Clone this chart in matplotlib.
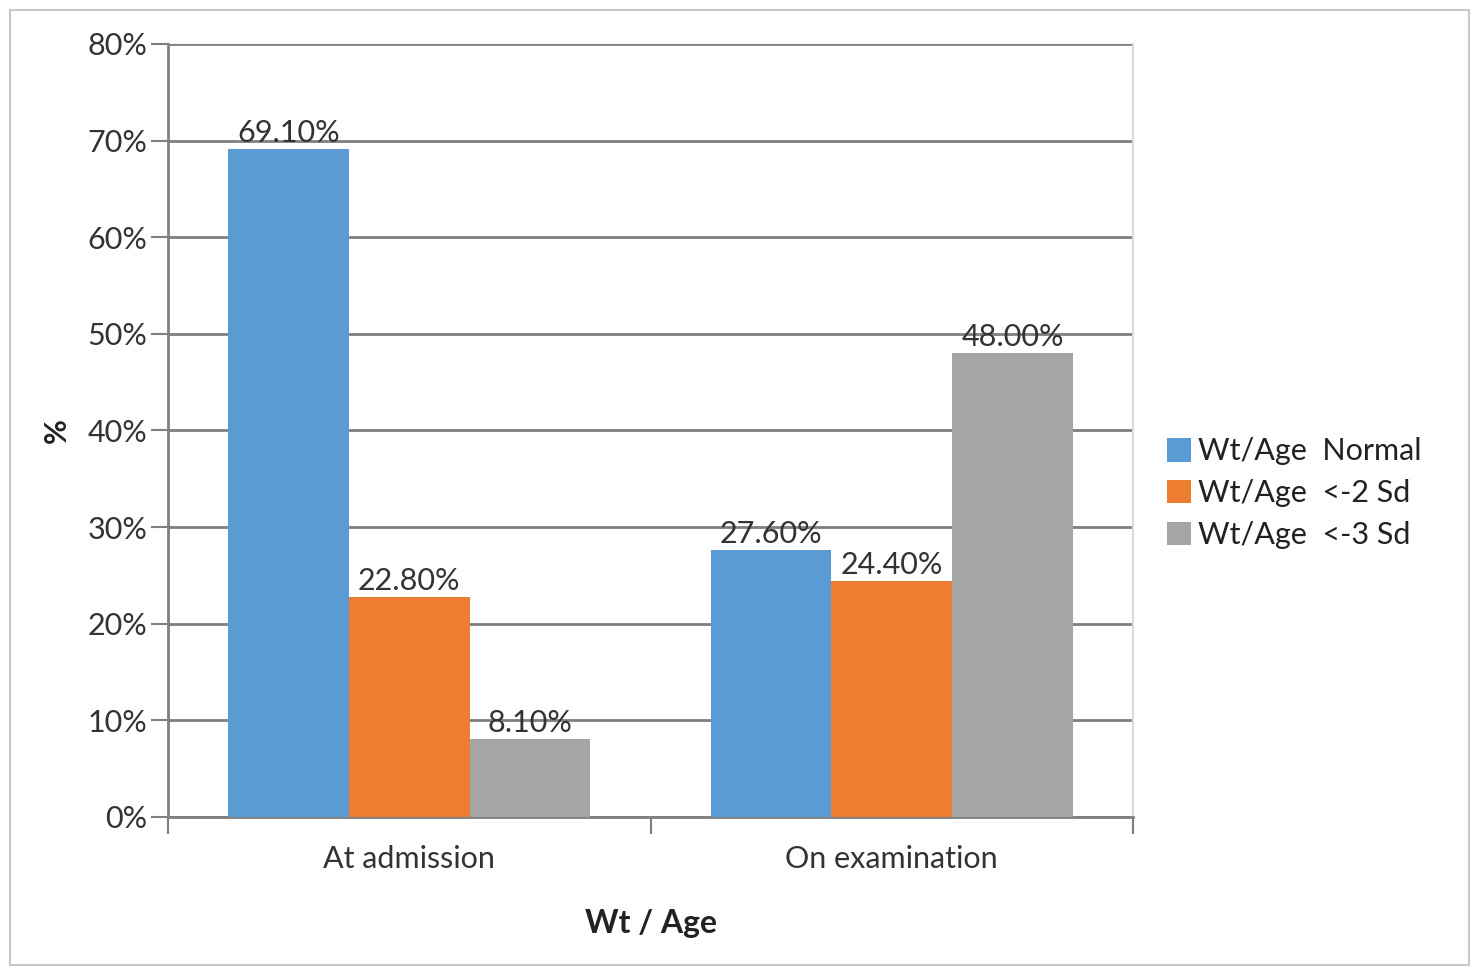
import numpy as np
import matplotlib
import matplotlib.pyplot as plt
from matplotlib.patches import Rectangle

matplotlib.use("Agg")
plt.rcParams["font.family"] = ["Lato", "DejaVu Sans"]

categories = ["At admission", "On examination"]
series = ["Wt/Age  Normal", "Wt/Age  <-2 Sd", "Wt/Age  <-3 Sd"]
normal = [69.10, 27.60]
sd2 = [22.80, 24.40]
sd3 = [8.10, 48.00]
colors = ["#5b9bd5", "#ed7d31", "#a5a5a5"]

fig = plt.figure(figsize=(14.78, 9.69), dpi=100)
fig.patches.append(Rectangle((0.007, 0.004), 0.987, 0.986, transform=fig.transFigure,
                             fill=False, edgecolor="#c8c8c8", linewidth=1.5))
ax = fig.add_axes([0.1137, 0.1569, 0.6529, 0.7977])

x = np.arange(len(categories))
w = 0.25
for i, (vals, col, lab) in enumerate(zip([normal, sd2, sd3], colors, series)):
    xs = x + (i - 1) * w
    ax.bar(xs, vals, width=w, color=col, label=lab, edgecolor="none", zorder=3)
    for xi, v in zip(xs, vals):
        ax.text(xi, v + 0.2, f"{v:.2f}%", ha="center", va="bottom",
                fontsize=22, color="#333333", zorder=4)

ax.set_xlim(-0.5, 1.5)
ax.set_ylim(0, 80)
ax.set_yticks(range(0, 81, 10))
ax.set_yticklabels([f"{t}%" for t in range(0, 81, 10)], fontsize=22, color="#333333")
ax.yaxis.grid(True, color="#7f7f7f", linewidth=2, zorder=1)
ax.tick_params(axis="y", length=12, width=1.5, color="#7f7f7f", pad=3)

ax.set_xticks([-0.5, 0.5, 1.5])
ax.set_xticklabels([])
ax.set_xticks(x, minor=True)
ax.set_xticklabels(categories, minor=True, fontsize=22, color="#333333")
ax.tick_params(axis="x", which="major", length=12, width=1.5, color="#7f7f7f")
ax.tick_params(axis="x", which="minor", length=0, pad=20)

for s in ["left", "bottom"]:
    ax.spines[s].set_color("#7f7f7f")
    ax.spines[s].set_linewidth(2)
ax.spines["top"].set_visible(False)
ax.spines["right"].set_color("#d9d9d9")
ax.spines["right"].set_linewidth(1.5)

ax.set_ylabel("%", fontsize=22, fontweight="bold", color="#222222", labelpad=12)
ax.set_xlabel("Wt / Age", fontsize=23, fontweight="bold", color="#222222", labelpad=26)

fig.legend(loc="center left", bbox_to_anchor=(0.771, 0.491), frameon=False,
           fontsize=22, handlelength=0.8, handleheight=0.8, handletextpad=0.2,
           labelspacing=0.45, labelcolor="#222222")

fig.savefig("out.png", dpi=100)
